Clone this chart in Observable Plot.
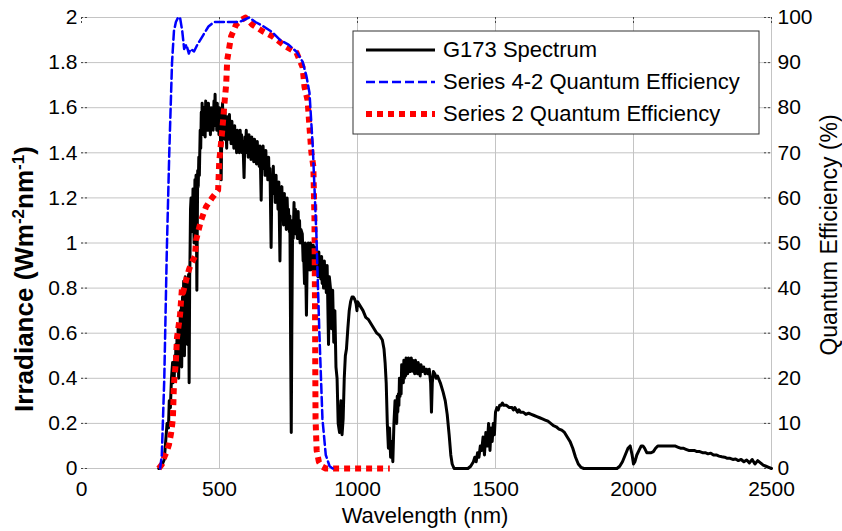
<!DOCTYPE html>
<html>
<head>
<meta charset="utf-8">
<script src="https://cdn.jsdelivr.net/npm/d3@7"></script>
<script src="https://cdn.jsdelivr.net/npm/@observablehq/plot@0.6"></script>
<style>
  html, body { margin: 0; padding: 0; background: #fff; }
  #chart { width: 842px; height: 531px; }
</style>
</head>
<body>
<div id="chart"></div>
<script>
// ---- Data ----
const xTicks = [0, 500, 1000, 1500, 2000, 2500];
const yTicks = [0, 0.2, 0.4, 0.6, 0.8, 1, 1.2, 1.4, 1.6, 1.8, 2];
const qeTickLabels = ["0","10","20","30","40","50","60","70","80","90","100"];

const seriesNames = ["G173 Spectrum", "Series 4-2 Quantum Efficiency", "Series 2 Quantum Efficiency"];

// G173 spectrum: [wavelength (nm), irradiance (W m^-2 nm^-1)]
const g173 = [
[280,0],[290,0.01],[300,0.04],[305,0.12],[310,0.2],[315,0.18],[318,0.3],[322,0.27],[326,0.4],
[330,0.47],[332,0.38],[334,0.45],[336,0.4],[338,0.5],[340,0.43],[342,0.55],[344,0.45],[346,0.58],[348,0.48],
[350,0.62],[352,0.4],[354,0.62],[356,0.5],[358,0.7],[360,0.55],[362,0.72],[363,0.45],[366,0.76],[368,0.6],
[370,0.83],[372,0.62],[373,0.5],[376,0.85],[378,0.7],[380,0.84],[382,0.65],[384,0.55],[386,0.8],[388,0.86],
[390,0.38],[392,0.85],[393,0.92],[395,1.15],[397,1.2],[399,1.05],[400,1.18],[402,1.1],[404,1.24],[406,1.12],
[408,1.0],[410,1.2],[411,1.28],[413,1.18],[415,1.3],[418,0.79],[421,1.32],[423,1.25],[425,1.38],[427,1.3],
[430,1.5],[432,1.42],[434,1.58],[436,1.48],[437,1.62],[439,1.5],[440,1.58],[442,1.48],[443,1.6],[445,1.5],
[446,1.55],[448,1.47],[450,1.63],[452,1.52],[455,1.6],[457,1.5],[460,1.62],[462,1.5],[465,1.58],[467,1.48],
[470,1.6],[472,1.52],[475,1.6],[477,1.5],[480,1.63],[482,1.55],[484,1.66],[486,1.52],[488,1.6],[490,1.5],
[492,1.62],[494,1.5],[496,1.58],[498,1.48],[500,1.6],[503,1.5],[506,1.28],[509,1.55],[511,1.62],[513,1.5],
[516,1.56],[518,1.46],[520,1.58],[522,1.48],[524,1.5],[526,1.42],[528,1.56],[530,1.47],[532,1.55],[534,1.46],
[536,1.57],[538,1.46],[540,1.52],[542,1.44],[545,1.54],[547,1.44],[550,1.5],[552,1.42],[555,1.52],[557,1.42],
[560,1.48],[562,1.4],[565,1.5],[567,1.42],[570,1.48],[572,1.4],[575,1.5],[577,1.42],[580,1.48],[582,1.4],
[585,1.45],[589,1.29],[592,1.47],[594,1.4],[597,1.5],[599,1.4],[602,1.46],[604,1.38],[607,1.48],[609,1.4],
[612,1.45],[614,1.37],[617,1.47],[619,1.38],[622,1.44],[624,1.36],[627,1.46],[629,1.37],[632,1.43],[634,1.35],
[637,1.45],[639,1.36],[642,1.42],[644,1.34],[647,1.43],[651,1.19],[654,1.42],[656,1.34],[658,1.43],[660,1.33],
[663,1.4],[665,1.3],[668,1.41],[670,1.3],[673,1.37],[675,1.28],[678,1.38],[680,1.28],[683,1.33],[687,0.98],
[690,1.3],[692,1.22],[695,1.34],[697,1.22],[700,1.28],[702,1.18],[705,1.3],[707,1.18],[710,1.25],[712,1.15],
[715,1.27],[719,0.92],[722,1.22],[724,1.12],[726,1.25],[728,1.12],[730,1.2],[732,1.08],[735,1.22],[737,1.1],
[740,1.17],[742,1.06],[745,1.2],[748,1.08],[750,1.15],[753,1.05],[755,1.12],[758,0.5],[760,0.16],[762,0.6],
[765,1.1],[767,1.02],[770,1.18],[772,1.06],[775,1.15],[777,1.04],[780,1.12],[782,1.02],[785,1.14],[787,1.02],
[790,1.1],[792,1.0],[795,1.06],[800,1.04],[803,0.92],[805,0.95],[808,0.82],[811,1.0],[815,0.68],[818,0.95],
[820,0.88],[822,1.0],[824,0.9],[826,0.96],[828,0.88],[830,1.0],[832,0.9],[835,0.97],[837,0.88],[840,0.99],
[842,0.9],[845,0.95],[847,0.86],[850,0.98],[852,0.88],[855,0.95],[857,0.85],[860,0.96],[862,0.86],[865,0.93],
[867,0.84],[870,0.94],[872,0.82],[875,0.9],[877,0.8],[880,0.92],[882,0.8],[885,0.88],[887,0.78],[890,0.9],
[895,0.55],[898,0.85],[902,0.8],[906,0.62],[910,0.79],[914,0.56],[918,0.7],[922,0.45],[926,0.4],[930,0.2],
[935,0.16],[940,0.3],[944,0.15],[948,0.22],[952,0.4],[956,0.5],[960,0.53],[965,0.62],[970,0.7],[975,0.74],
[980,0.76],[985,0.76],[990,0.75],[995,0.73],[998,0.7],[1000,0.74],[1010,0.72],[1020,0.7],[1030,0.67],[1040,0.66],
[1050,0.64],[1060,0.62],[1070,0.6],[1080,0.59],[1090,0.57],[1096,0.53],[1100,0.47],[1104,0.38],[1108,0.2],[1112,0.09],
[1116,0.18],[1120,0.05],[1124,0.12],[1128,0.03],[1132,0.2],[1136,0.3],[1138,0.22],[1140,0.28],[1142,0.2],[1144,0.32],
[1146,0.25],[1148,0.33],[1150,0.28],[1152,0.4],[1154,0.32],[1156,0.38],[1158,0.33],[1160,0.46],[1162,0.38],[1164,0.44],
[1166,0.38],[1168,0.48],[1170,0.4],[1172,0.47],[1174,0.41],[1176,0.49],[1178,0.42],[1180,0.48],[1182,0.42],[1185,0.49],
[1187,0.43],[1190,0.48],[1192,0.43],[1195,0.49],[1197,0.44],[1200,0.48],[1202,0.43],[1205,0.47],[1207,0.42],[1210,0.48],
[1212,0.43],[1215,0.47],[1217,0.42],[1220,0.47],[1222,0.42],[1225,0.46],[1227,0.41],[1230,0.46],[1235,0.43],[1240,0.45],
[1245,0.42],[1250,0.44],[1255,0.42],[1260,0.44],[1265,0.38],[1268,0.25],[1271,0.38],[1275,0.43],[1280,0.42],[1285,0.4],
[1290,0.41],[1300,0.38],[1310,0.34],[1318,0.3],[1325,0.24],[1332,0.15],[1338,0.06],[1343,0.02],[1350,0],[1400,0],
[1410,0.01],[1420,0.03],[1425,0.05],[1430,0.03],[1435,0.07],[1440,0.05],[1445,0.1],[1450,0.08],[1455,0.14],[1460,0.06],
[1465,0.16],[1470,0.1],[1475,0.2],[1480,0.08],[1484,0.18],[1488,0.12],[1492,0.2],[1496,0.15],[1500,0.25],[1505,0.27],
[1510,0.26],[1515,0.28],[1520,0.28],[1525,0.29],[1530,0.28],[1540,0.28],[1550,0.27],[1560,0.27],[1565,0.26],[1570,0.27],
[1580,0.25],[1585,0.26],[1590,0.25],[1600,0.25],[1610,0.24],[1620,0.245],[1630,0.24],[1640,0.235],[1650,0.23],[1660,0.225],
[1670,0.22],[1680,0.215],[1690,0.21],[1700,0.2],[1710,0.19],[1720,0.185],[1730,0.175],[1740,0.17],[1750,0.16],[1760,0.14],
[1770,0.12],[1780,0.09],[1790,0.05],[1800,0.02],[1810,0.005],[1820,0],[1940,0],[1950,0.01],[1960,0.03],[1970,0.06],
[1980,0.09],[1988,0.1],[1995,0.06],[2000,0.02],[2005,0.03],[2012,0.06],[2020,0.08],[2028,0.1],[2034,0.1],[2040,0.09],
[2048,0.07],[2056,0.07],[2064,0.07],[2072,0.075],[2080,0.09],[2088,0.1],[2100,0.1],[2120,0.1],[2140,0.1],[2150,0.1],
[2160,0.095],[2170,0.09],[2180,0.09],[2190,0.085],[2200,0.08],[2210,0.08],[2220,0.08],[2230,0.075],[2240,0.075],[2250,0.07],
[2260,0.07],[2270,0.065],[2280,0.068],[2290,0.06],[2300,0.06],[2310,0.055],[2320,0.052],[2330,0.05],[2340,0.045],[2350,0.045],
[2360,0.04],[2370,0.042],[2380,0.035],[2390,0.04],[2400,0.03],[2410,0.038],[2420,0.025],[2430,0.04],[2440,0.02],[2450,0.035],
[2460,0.025],[2470,0.015],[2480,0.01],[2490,0.005],[2500,0]
];

// Series 4-2 quantum efficiency (%)
const qe42Wl  = [285,291,300,309,318,328,335,342,350,357,365,372,380,389,395,408,420,440,460,480,491,520,550,571,590,608,630,660,692,720,750,779,801,815,826,838,851,862,873,885,899,910];
const qe42Val = [0,3,20,48,70,90,97,99,100,100,97,93,94,92,93,92.5,94,96,98,99,99,99,99,99,99.5,100,99,98,96.7,95,94,92.4,90.2,87,83.3,71.3,52,29.8,11,3,0.5,0];

// Series 2 quantum efficiency (%)
const qe2Wl  = [280,291,300,310,317,325,331,335,342,346,357,364,368,380,389,397,411,415,433,451,473,495,499,510,520,524,528,542,560,580,594,619,655,692,742,779,801,808,819,826,833,840,844,846,847,848,852,860,870,885,1117];
const qe2Val = [0,0.9,2.5,4,5.3,8,11,18.7,23.8,29,34,40,39,42,44,45.4,47,50.6,55,58,60,61.7,68,75,82.4,85,90.6,95.8,98.4,99.5,100,98.4,97,95.8,93.5,92.2,89,84.6,81.7,75.7,70,67,55.7,37,22,11,4,1.5,0.5,0,0];

// ---- Build tables ----
const qeToIrr = 2 / 100; // right axis 0-100 % maps to left axis 0-2
const spec = g173.map(([w, v]) => ({w, v}));
const qe42 = qe42Wl.map((w, i) => ({w, v: qe42Val[i] * qeToIrr}));
const qe2  = qe2Wl.map((w, i) => ({w, v: qe2Val[i] * qeToIrr}));

const W = 842, H = 531;
const mL = 81, mR = 71, mT = 17, mB = 63;
const innerW = W - mL - mR, innerH = H - mT - mB;
const gridColor = "#c4c4c4";
const fmtY = d => String(+d.toFixed(1));

const chart = Plot.plot({
  width: W, height: H,
  marginLeft: mL, marginRight: mR, marginTop: mT, marginBottom: mB,
  style: {fontFamily: "'Liberation Sans', Arial, sans-serif", fontSize: "21px", color: "#000", background: "#fff", overflow: "visible"},
  x: {domain: [0, 2500]},
  y: {domain: [0, 2]},
  marks: [
    Plot.gridX(xTicks.filter(d => d > 0), {stroke: gridColor, strokeOpacity: 1}),
    Plot.gridY(yTicks, {stroke: gridColor, strokeOpacity: 1}),
    // small inward tick marks
    Plot.tickY(yTicks, {y: d => d, insetRight: innerW - 7, stroke: "#444", strokeDasharray: "2,2"}),
    Plot.tickY(yTicks, {y: d => d, insetLeft: innerW - 7, stroke: "#444", strokeDasharray: "2,2"}),
    Plot.tickX(xTicks, {x: d => d, insetBottom: innerH - 7, stroke: "#444", strokeDasharray: "2,2"}),
    Plot.axisX(xTicks, {tickSize: 0, tickPadding: 13, label: null, fontSize: 21, tickFormat: d => String(d)}),
    Plot.axisY(yTicks, {anchor: "left", tickSize: 0, tickPadding: 4, label: null, tickFormat: fmtY, fontSize: 21}),
    Plot.axisY(yTicks, {anchor: "right", tickSize: 0, tickPadding: 6, label: null, tickFormat: (d, i) => qeTickLabels[i], fontSize: 21}),
    Plot.line(spec, {x: "w", y: "v", stroke: "#000", strokeWidth: 3, strokeLinejoin: "round"}),
    Plot.line(qe2, {x: "w", y: "v", stroke: "#ff0000", strokeWidth: 6, strokeDasharray: "6,5", strokeLinecap: "butt"}),
    Plot.line(qe42, {x: "w", y: "v", stroke: "#0000ff", strokeWidth: 2.5, strokeDasharray: "9,4"})
  ]
});

document.getElementById("chart").appendChild(chart);

// ---- Axis titles & legend (as SVG text) ----
const svg = d3.select(chart);
const font = "'Liberation Sans', Arial, sans-serif";

svg.append("text")
  .attr("x", 425).attr("y", 517)
  .attr("text-anchor", "middle").attr("dominant-baseline", "middle")
  .attr("font-family", font).attr("font-size", 22).attr("fill", "#000")
  .text("Wavelength (nm)");

const yl = svg.append("text")
  .attr("transform", "translate(33,279) rotate(-90)")
  .attr("text-anchor", "middle")
  .attr("font-family", font).attr("font-size", 26).attr("font-weight", "bold").attr("fill", "#000");
yl.append("tspan").text("Irradiance (Wm");
yl.append("tspan").attr("dy", -9).attr("font-size", 17).text("-2");
yl.append("tspan").attr("dy", 9).text("nm");
yl.append("tspan").attr("dy", -9).attr("font-size", 17).text("-1");
yl.append("tspan").attr("dy", 9).text(")");

svg.append("text")
  .attr("transform", "translate(837,235) rotate(-90)")
  .attr("text-anchor", "middle")
  .attr("font-family", font).attr("font-size", 23).attr("fill", "#000")
  .text("Quantum Efficiency (%)");

// legend
const lg = svg.append("g").attr("text-anchor", "start");
lg.append("rect").attr("x", 353).attr("y", 31).attr("width", 406).attr("height", 103)
  .attr("fill", "#fff").attr("stroke", "#333").attr("stroke-width", 1);
const legendStyles = [
  {stroke: "#000", width: 3, dash: null, y: 50},
  {stroke: "#0000ff", width: 2.5, dash: "9,4", y: 82},
  {stroke: "#ff0000", width: 6, dash: "6,5", y: 114}
];
seriesNames.forEach((name, i) => {
  const s = legendStyles[i];
  const ln = lg.append("line").attr("x1", 366).attr("x2", 435).attr("y1", s.y).attr("y2", s.y)
    .attr("stroke", s.stroke).attr("stroke-width", s.width);
  if (s.dash) ln.attr("stroke-dasharray", s.dash);
  lg.append("text").attr("x", 443).attr("y", s.y + 1).attr("dominant-baseline", "middle")
    .attr("text-anchor", "start")
    .attr("font-family", font).attr("font-size", 22).attr("fill", "#000").text(name);
});
</script>
</body>
</html>
